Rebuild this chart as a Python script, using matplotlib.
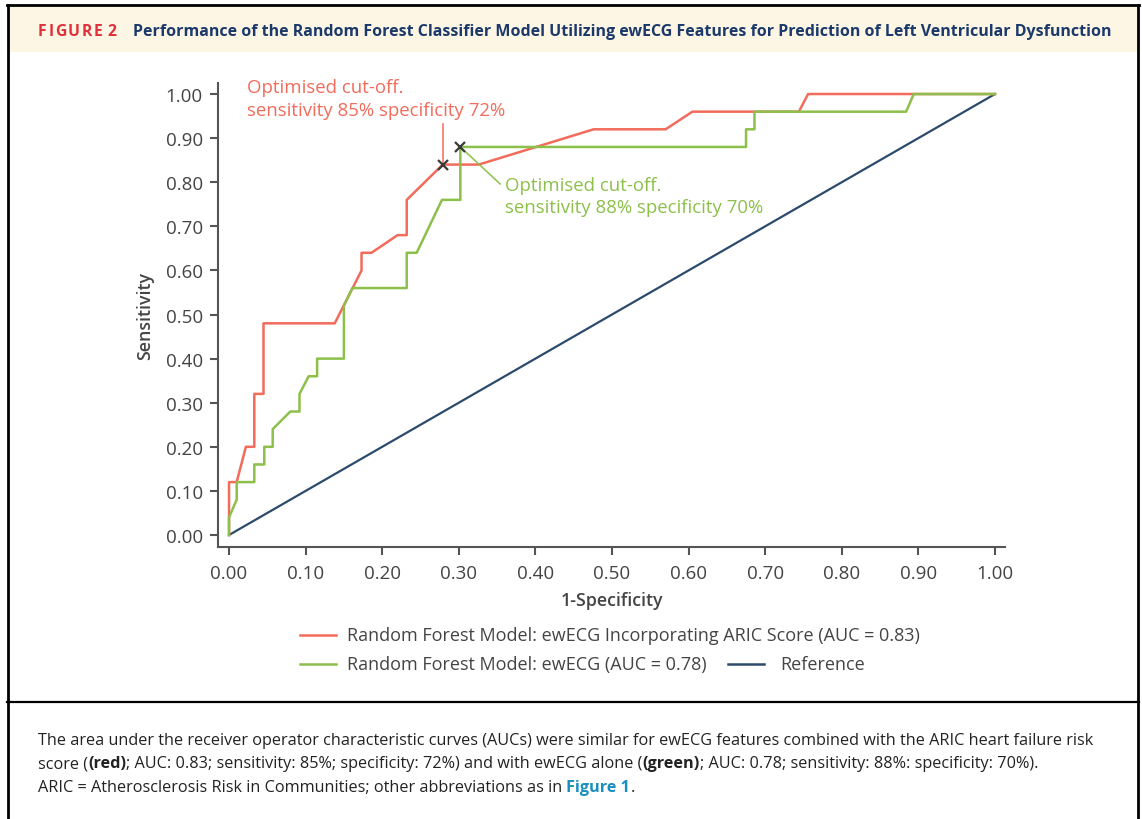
import matplotlib.pyplot as plt
from matplotlib.lines import Line2D
from matplotlib.patches import Rectangle

# ROC curve vertices
red_fpr = [0.0, 0.0, 0.01, 0.022, 0.033, 0.033, 0.045, 0.045, 0.138, 0.173, 0.173, 0.186,
           0.22, 0.232, 0.232, 0.279, 0.326, 0.476, 0.57, 0.605, 0.744, 0.756, 1.0]
red_tpr = [0.0, 0.12, 0.12, 0.20, 0.20, 0.32, 0.32, 0.48, 0.48, 0.60, 0.64, 0.64,
           0.68, 0.68, 0.76, 0.84, 0.84, 0.92, 0.92, 0.96, 0.96, 1.0, 1.0]

green_fpr = [0.0, 0.0, 0.01, 0.01, 0.033, 0.033, 0.046, 0.046, 0.057, 0.057, 0.080, 0.092,
             0.092, 0.104, 0.115, 0.115, 0.150, 0.150, 0.161, 0.232, 0.232, 0.245, 0.278,
             0.302, 0.302, 0.675, 0.675, 0.686, 0.686, 0.884, 0.894, 1.0]
green_tpr = [0.0, 0.04, 0.08, 0.12, 0.12, 0.16, 0.16, 0.20, 0.20, 0.24, 0.28, 0.28,
             0.32, 0.36, 0.36, 0.40, 0.40, 0.52, 0.56, 0.56, 0.64, 0.64, 0.76,
             0.76, 0.88, 0.88, 0.92, 0.92, 0.96, 0.96, 1.0, 1.0]

ref_x = [0.0, 1.0]
ref_y = [0.0, 1.0]

red_cut = (0.279, 0.84)
green_cut = (0.302, 0.88)

ticks = [0.0, 0.1, 0.2, 0.3, 0.4, 0.5, 0.6, 0.7, 0.8, 0.9, 1.0]

RED = '#f26b5b'
GREEN = '#8cc04a'
NAVY = '#2c4a6b'
GREY = '#444444'
FONT = 'Open Sans'

fig = plt.figure(figsize=(11.42, 8.2), dpi=100)
W, H = 1142, 820


def fx(px):
    return px / W


def fy(py):
    return 1 - py / H


# frame, header band and separator
fig.patches.append(Rectangle((fx(8), fy(53)), fx(1130), 46 / H, transform=fig.transFigure,
                             facecolor='#fdf6e4', edgecolor='none', zorder=0))
for xs, ys, lw in [([8, 8], [6, 820], 2), ([1138, 1138], [6, 820], 2),
                   ([7, 1139], [6, 6], 2), ([7, 1139], [703, 703], 1.6)]:
    fig.add_artist(Line2D([fx(v) for v in xs], [fy(v) for v in ys], color='black', lw=lw))

renderer = fig.canvas.get_renderer()


def draw_runs(x, y, runs, gap=0.0, **kw):
    # place text pieces one after the other on a line
    for txt, props in runs:
        t = fig.text(x, y, txt, **{**kw, **props})
        bb = t.get_window_extent(renderer)
        x += bb.width / fig.bbox.width + gap
    return x


# header title
x = draw_runs(fx(38), fy(35.5), [(c, {}) for c in 'FIGURE'], gap=fx(1.6), color='#e0303a',
              fontsize=11.3, fontweight='bold', family=FONT, va='baseline')
x = draw_runs(x + fx(4), fy(35.5), [('2', {})], color='#e0303a',
              fontsize=11.3, fontweight='bold', family=FONT, va='baseline')
fig.text(fx(133), fy(35.5),
         'Performance of the Random Forest Classifier Model Utilizing ewECG Features for Prediction of Left Ventricular Dysfunction',
         color='#1b3a6b', fontsize=11.5, fontweight='bold', family=FONT, va='baseline')

# axes
ax = fig.add_axes([fx(218), fy(548), fx(1005) - fx(218), (548 - 84) / H])
ax.plot(ref_x, ref_y, color=NAVY, lw=1.6, zorder=2)
ax.plot(red_fpr, red_tpr, color=RED, lw=1.8, zorder=3)
ax.plot(green_fpr, green_tpr, color=GREEN, lw=1.8, zorder=4)

ax.set_xlim(-0.0144, 1.0131)
ax.set_ylim(-0.0272, 1.025)
ax.set_xticks(ticks)
ax.set_yticks(ticks)
ax.set_xticklabels([f'{t:.2f}' for t in ticks])
ax.set_yticklabels([f'{t:.2f}' for t in ticks])
for s in ['top', 'right']:
    ax.spines[s].set_visible(False)
for s in ['left', 'bottom']:
    ax.spines[s].set_color('#555555')
    ax.spines[s].set_linewidth(1.5)
ax.tick_params(colors='#555555', labelcolor=GREY, width=1.5, length=6, labelsize=13.5)
for lab in ax.get_xticklabels() + ax.get_yticklabels():
    lab.set_family(FONT)
ax.tick_params(axis='x', pad=6)
ax.tick_params(axis='y', pad=5)

# annotations
ax.plot([red_cut[0], red_cut[0]], [red_cut[1], 0.932], color=RED, lw=1.1, zorder=5)
ax.plot([green_cut[0], 0.354], [green_cut[1], 0.796], color=GREEN, lw=1.1, zorder=5)
ax.plot(*red_cut, marker='x', color='#3a3a3a', ms=7, mew=1.6, zorder=6)
ax.plot(*green_cut, marker='x', color='#3a3a3a', ms=7, mew=1.6, zorder=6)
ax.text(0.0235, 0.99, 'Optimised cut-off.\nsensitivity 85% specificity 72%', color=RED,
        fontsize=13.4, family=FONT, va='center', ha='left', linespacing=1.3)
ax.text(0.360, 0.768, 'Optimised cut-off.\nsensitivity 88% specificity 70%', color=GREEN,
        fontsize=13.4, family=FONT, va='center', ha='left', linespacing=1.3)

fig.text(fx(145), fy(316), 'Sensitivity', rotation=90, color=GREY, fontsize=12.8,
         fontweight='semibold', family=FONT, ha='center', va='center')
fig.text(fx(612), fy(601), '1-Specificity', color=GREY, fontsize=12.8,
         fontweight='semibold', family=FONT, ha='center', va='center')

# legend drawn by hand
legend_rows = [
    (300, 636, 347, RED, 'Random Forest Model: ewECG Incorporating ARIC Score (AUC = 0.83)'),
    (300, 665, 347, GREEN, 'Random Forest Model: ewECG (AUC = 0.78)'),
    (728, 665, 780, NAVY, 'Reference'),
]
for lx, ly, tx, col, lab in legend_rows:
    fig.add_artist(Line2D([fx(lx), fx(lx + 36)], [fy(ly), fy(ly)], color=col, lw=1.8))
    fig.text(fx(tx), fy(ly), lab, color=GREY, fontsize=13, family=FONT, va='center')

# caption
cap_kw = dict(color='#222222', fontsize=11.7, family=FONT, va='baseline')
bold = {'fontweight': 'bold'}
draw_runs(fx(38), fy(745), [('The area under the receiver operator characteristic curves (AUCs) were similar for ewECG features combined with the ARIC heart failure risk', {})], **cap_kw)
draw_runs(fx(38), fy(768.5), [('score (', {}), ('(red)', bold),
                              ('; AUC: 0.83; sensitivity: 85%; specificity: 72%) and with ewECG alone (', {}),
                              ('(green)', bold),
                              ('; AUC: 0.78; sensitivity: 88%: specificity: 70%).', {})], **cap_kw)
draw_runs(fx(38), fy(792), [('ARIC = Atherosclerosis Risk in Communities; other abbreviations as in ', {}),
                            ('Figure 1', {'fontweight': 'bold', 'color': '#1a8fc0'}),
                            ('.', {})], **cap_kw)

fig.savefig('out.png', dpi=100)
